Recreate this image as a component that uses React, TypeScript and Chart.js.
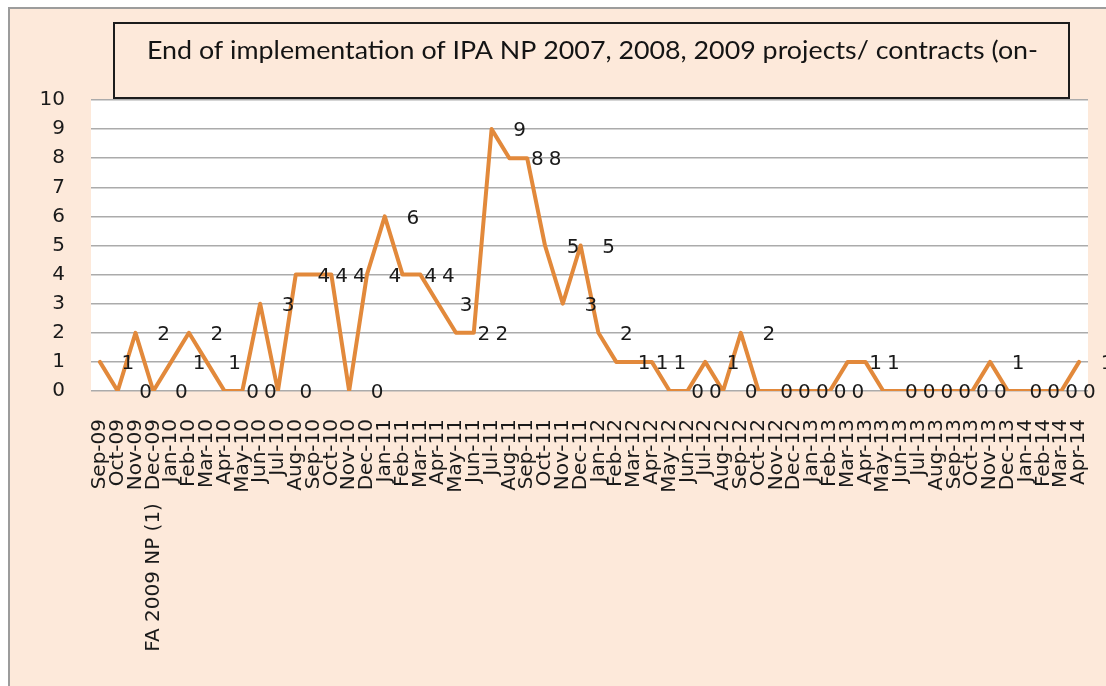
import React, { useEffect, useRef } from "react";
import { Chart, registerables } from "chart.js";

Chart.register(...registerables);

const TITLE = "End of implementation of IPA NP 2007, 2008, 2009 projects/ contracts (on-";

const MONTHS = [
  "Sep-09", "Oct-09", "Nov-09", "FA 2009 NP (1)  Dec-09",
  "Jan-10", "Feb-10", "Mar-10", "Apr-10", "May-10", "Jun-10", "Jul-10", "Aug-10", "Sep-10", "Oct-10", "Nov-10", "Dec-10",
  "Jan-11", "Feb-11", "Mar-11", "Apr-11", "May-11", "Jun-11", "Jul-11", "Aug-11", "Sep-11", "Oct-11", "Nov-11", "Dec-11",
  "Jan-12", "Feb-12", "Mar-12", "Apr-12", "May-12", "Jun-12", "Jul-12", "Aug-12", "Sep-12", "Oct-12", "Nov-12", "Dec-12",
  "Jan-13", "Feb-13", "Mar-13", "Apr-13", "May-13", "Jun-13", "Jul-13", "Aug-13", "Sep-13", "Oct-13", "Nov-13", "Dec-13",
  "Jan-14", "Feb-14", "Mar-14", "Apr-14",
];

const VALUES = [
  1, 0, 2, 0,
  1, 2, 1, 0, 0, 3, 0, 4, 4, 4, 0, 4,
  6, 4, 4, 3, 2, 2, 9, 8, 8, 5, 3, 5,
  2, 1, 1, 1, 0, 0, 1, 0, 2, 0, 0, 0,
  0, 0, 1, 1, 0, 0, 0, 0, 0, 0, 1, 0,
  0, 0, 0, 1,
];

const Y_MIN = 0;
const Y_MAX = 10;
const Y_STEP = 1;

const PEACH = "#FDE9DA";
const LINE_COLOR = "#E2893B";
const GRID_COLOR = "#ababab";
const TEXT_COLOR = "#1a1a1a";
const TICK_FONT = "DejaVu Sans";

const backgroundPlugin = {
  id: "bgPlugin",
  beforeDraw(chart: any) {
    const { ctx, width, height, chartArea } = chart;
    ctx.save();
    ctx.fillStyle = "#ffffff";
    ctx.fillRect(0, 0, width, height);
    ctx.fillStyle = PEACH;
    ctx.fillRect(8, 7, width - 8, height - 7);
    ctx.fillStyle = "#9c9c9c";
    ctx.fillRect(8, 7, 2, height - 7);
    ctx.fillRect(8, 7, width - 8, 2);
    ctx.fillStyle = "#ffffff";
    ctx.fillRect(chartArea.left, chartArea.top, chartArea.right - chartArea.left, chartArea.bottom - chartArea.top);
    ctx.restore();
  },
};

const titlePlugin = {
  id: "titleBox",
  afterDraw(chart: any) {
    const { ctx } = chart;
    ctx.save();
    ctx.strokeStyle = "#1c1c1c";
    ctx.lineWidth = 2;
    ctx.strokeRect(114, 23, 955, 75);
    ctx.fillStyle = "#141414";
    ctx.font = '24.5px "Lato"';
    ctx.textAlign = "left";
    ctx.textBaseline = "alphabetic";
    const w = ctx.measureText(TITLE).width;
    const target = 891;
    ctx.translate(147, 59);
    ctx.scale(target / w, 1);
    ctx.fillText(TITLE, 0, 0);
    ctx.restore();
  },
};

const dataLabelPlugin = {
  id: "dataLabels",
  afterDatasetsDraw(chart: any) {
    const { ctx } = chart;
    const meta = chart.getDatasetMeta(0);
    const values = chart.data.datasets[0].data as number[];
    ctx.save();
    ctx.font = `20px "${TICK_FONT}"`;
    ctx.fillStyle = TEXT_COLOR;
    ctx.textAlign = "center";
    ctx.textBaseline = "middle";
    meta.data.forEach((pt: any, i: number) => {
      ctx.fillText(String(values[i]), pt.x + 28, pt.y + 2);
    });
    ctx.restore();
  },
};

export default function App() {
  const ref = useRef<HTMLCanvasElement | null>(null);

  useEffect(() => {
    if (!ref.current) return;
    const chart = new Chart(ref.current, {
      type: "line",
      data: {
        labels: MONTHS,
        datasets: [
          {
            data: VALUES,
            borderColor: LINE_COLOR,
            borderWidth: 4,
            pointRadius: 0,
            pointHoverRadius: 0,
            tension: 0,
            fill: false,
            borderJoinStyle: "round",
            borderCapStyle: "round",
          },
        ],
      },
      options: {
        responsive: false,
        animation: false,
        devicePixelRatio: 1,
        layout: { padding: { top: 100, right: 18, left: 0, bottom: 0 } },
        plugins: {
          legend: { display: false },
          title: { display: false },
          tooltip: { enabled: false },
        },
        events: [],
        scales: {
          x: {
            type: "category",
            offset: true,
            grid: { display: false, drawTicks: false },
            border: { display: false },
            ticks: {
              autoSkip: false,
              minRotation: 90,
              maxRotation: 90,
              padding: 28,
              color: TEXT_COLOR,
              font: { family: TICK_FONT, size: 20 },
            },
            afterFit: (s: any) => {
              s.height = 295;
              s.paddingLeft = 0;
              s.paddingRight = 0;
            },
          },
          y: {
            min: Y_MIN,
            max: Y_MAX,
            grid: { color: GRID_COLOR, lineWidth: 1.5, drawTicks: false },
            border: { display: false },
            ticks: {
              stepSize: Y_STEP,
              padding: 26,
              color: TEXT_COLOR,
              font: { family: TICK_FONT, size: 20 },
            },
            afterFit: (s: any) => {
              s.width = 91;
            },
          },
        },
      },
      plugins: [backgroundPlugin, dataLabelPlugin, titlePlugin],
    });
    return () => chart.destroy();
  }, []);

  return (
    <div style={{ position: "fixed", left: 0, top: 0, width: 1106, height: 686, overflow: "hidden" }}>
      <canvas ref={ref} width={1106} height={686} style={{ display: "block" }} />
    </div>
  );
}
